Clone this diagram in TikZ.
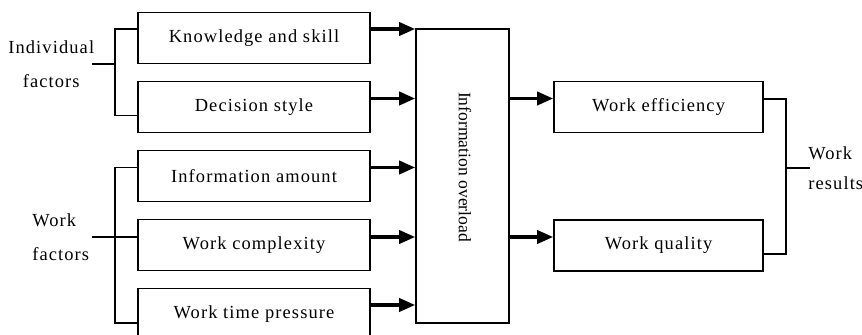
\documentclass[tikz,border=0pt]{standalone}
\usepackage{fontspec}
\setmainfont{Liberation Serif}[LetterSpace=6]
\newfontfamily\plainserif{Liberation Serif}
\usetikzlibrary{arrows.meta,positioning}

\begin{document}
\begin{tikzpicture}[font=\fontsize{10.5}{19.5}\selectfont,
  factor/.style={rectangle,minimum width=4.64cm,minimum height=1.02cm,
                 text centered,draw,line width=0.9pt},
  outcome/.style={factor,minimum width=4.18cm},
  flow/.style={-{Triangle[length=0.32cm,width=0.26cm]},line width=2pt},
  link/.style={line width=0.9pt},
  group/.style={inner sep=0pt,anchor=east}]
  \useasboundingbox (0,0) rectangle (17.24,6.7);

  \node[factor] (F1) at (5.08,5.94) {Knowledge and skill};
  \node[factor] (F2) at (5.08,4.56) {Decision style};
  \node[factor] (F3) at (5.08,3.18) {Information amount\hspace{0.55cm}};
  \node[factor] (F4) at (5.08,1.80) {Work complexity};
  \node[factor] (F5) at (5.08,0.42) {Work time pressure};

  \node[draw,line width=0.9pt,minimum width=1.86cm,minimum height=5.88cm] (IO) at (9.25,3.18) {};
  \node[rotate=-90,font=\plainserif\fontsize{10}{12}\selectfont] (IOtext) at (9.3,3.36) {Information overload};

  \node[outcome] (R1) at (13.17,4.56) {Work efficiency};
  \node[outcome] (R2) at (13.17,1.79) {Work quality};

  \foreach \i/\d in {1/0.18,2/0.17,3/0.17,4/0.16,5/0.18}{
    \coordinate (in\i) at ([yshift=\d cm]F\i.east);
    \draw[flow] (in\i) -- (in\i -| IO.west);
  }
  \foreach \i in {1,2}{
    \coordinate (out\i) at ([yshift=0.17cm]R\i.west);
    \draw[flow] (out\i -| IO.east) -- (out\i);
  }

  \coordinate (ib) at (2.3,5.42);
  \coordinate (is) at (1.84,5.42);
  \draw[link] ([yshift=0.18cm]F1.west) -| (ib) |- ([yshift=-0.17cm]F2.west);
  \draw[link] (is) -- (ib);
  \node[group,align=center,xshift=0.05cm] (IF) at (is) {Individual\\factors};

  \coordinate (wb) at (2.3,1.96);
  \coordinate (ws) at (1.84,1.96);
  \draw[link] ([yshift=0.17cm]F3.west) -| (wb) |- ([yshift=-0.18cm]F5.west);
  \draw[link] (ws) -- ([yshift=0.16cm]F4.west);
  \node[group,align=left,xshift=-0.05cm] (WF) at (ws) {Work\\factors};

  \coordinate (rb) at (15.72,3.34);
  \coordinate (rs) at (16.2,3.34);
  \draw[link] ([yshift=0.16cm]R1.east) -| (rb) |- ([yshift=-0.17cm]R2.east);
  \draw[link] (rb) -- (rs);
  \node[group,anchor=west,align=left,font=\fontsize{10.5}{17}\selectfont,xshift=-0.04cm] (WR) at (rs) {Work\\results};
\end{tikzpicture}
\end{document}
